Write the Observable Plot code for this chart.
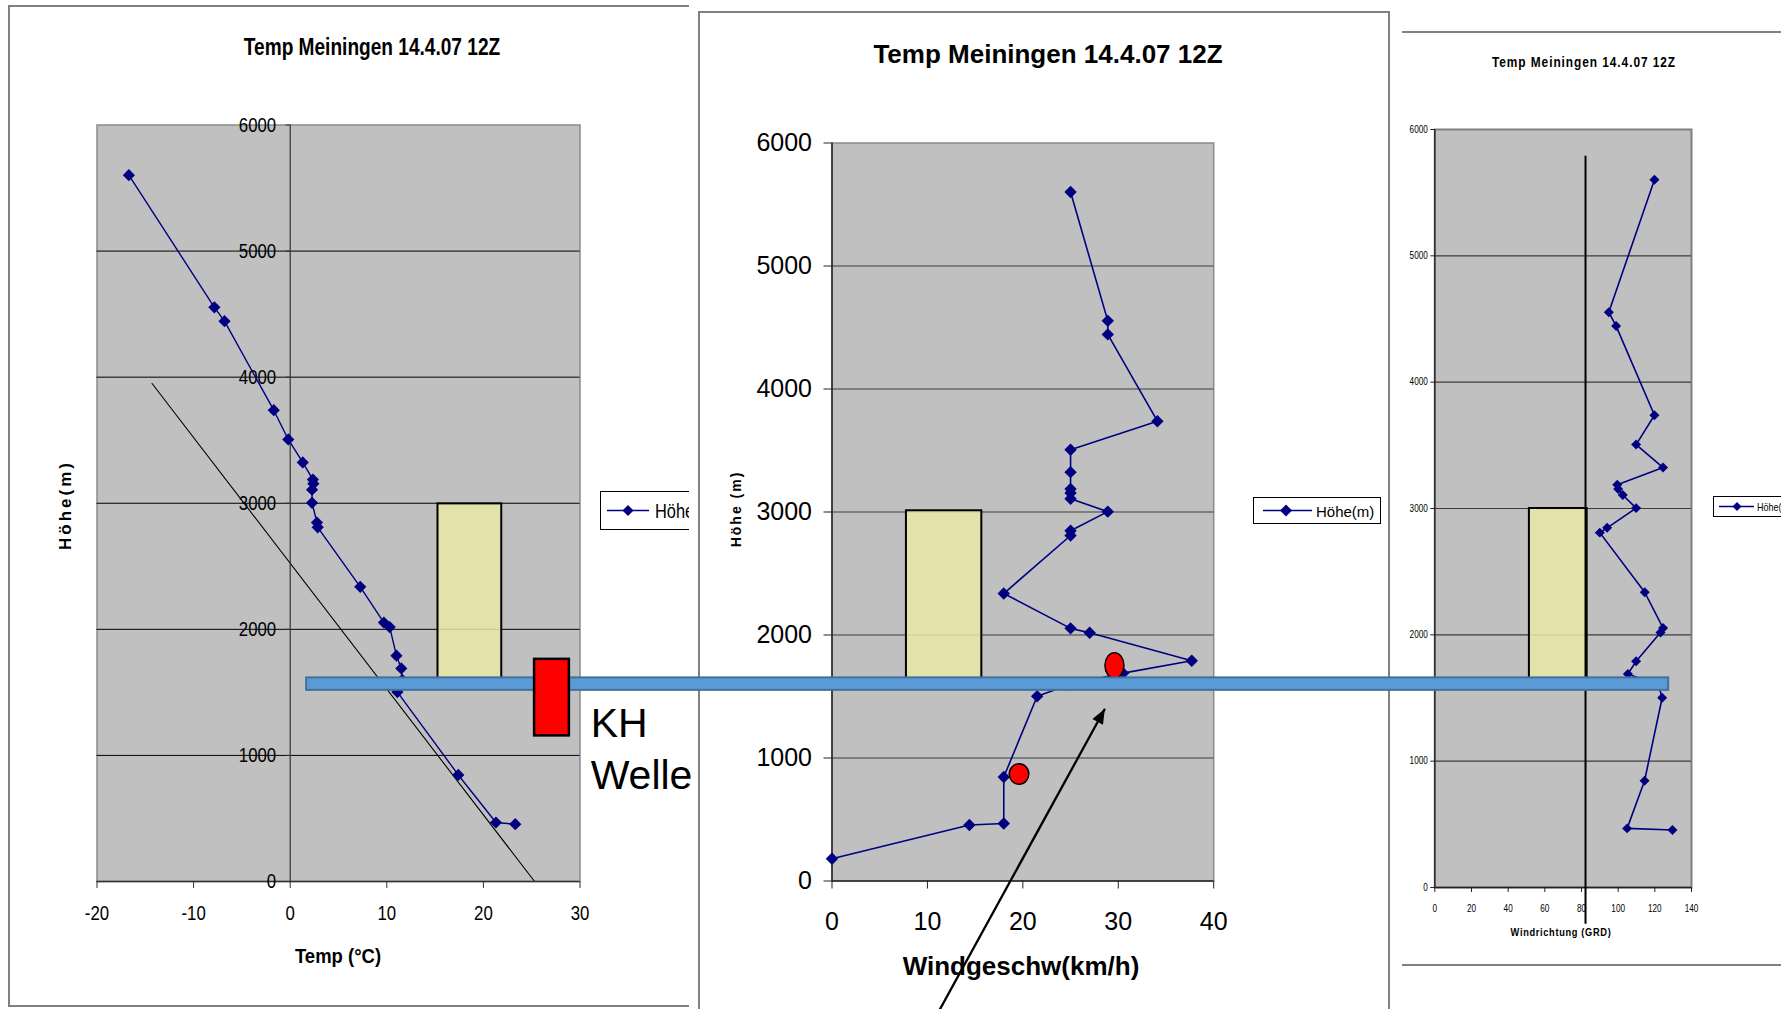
<!DOCTYPE html>
<html>
<head>
<meta charset="utf-8">
<script src="https://cdn.jsdelivr.net/npm/d3@7"></script>
<script src="https://cdn.jsdelivr.net/npm/@observablehq/plot@0.6"></script>
<style>
  html, body { margin: 0; padding: 0; background: #fff; }
  #page { position: relative; width: 1781px; height: 1009px; overflow: hidden; background: #fff;
          font-family: "Liberation Sans", Arial, sans-serif; color: #000; }
  .panel { position: absolute; left: 0; top: 0; width: 1781px; height: 1009px; }
  .panel > svg { position: absolute; top: 0; }
  .abs { position: absolute; white-space: nowrap; line-height: 1; }
  .c { transform: translate(-50%, -50%); }
  .rot { transform: translate(-50%, -50%) rotate(-90deg); }
  .frame { position: absolute; box-sizing: border-box; border: 2px solid #808080; }
  .hline { position: absolute; height: 0; border-top: 2px solid #808080; }
  .legend { position: absolute; box-sizing: border-box; border: 1px solid #000; background: #fff; }
  .legend svg { position: absolute; left: 0; top: 0; overflow: visible; }
  .legend span { position: absolute; white-space: nowrap; line-height: 1; transform-origin: 0 50%; }
</style>
</head>
<body>
<div id="page">
  <div class="panel" id="p1" style="clip-path: inset(0 1092px 0 0)">
    <div class="frame" style="left:8px; top:5px; width:760px; height:1002px"></div>
    <div class="abs" style="left:372px; top:47px; font-size:23px; font-weight:bold; transform: translate(-50%,-50%) scaleX(0.83)">Temp Meiningen 14.4.07 12Z</div>
    <div class="abs rot" style="left:65px; top:505px; font-size:17px; font-weight:bold; letter-spacing:3px">Höhe(m)</div>
    <div class="abs" style="left:338px; top:955px; font-size:21px; font-weight:bold; transform: translate(-50%,-50%) scaleX(0.88)">Temp (°C)</div>
  </div>
  <div class="panel" id="p2" style="clip-path: inset(0 391px 0 698px)">
    <div class="frame" style="left:698px; top:11px; width:692px; height:1100px"></div>
    <div class="abs c" style="left:1048px; top:54px; font-size:26px; font-weight:bold">Temp Meiningen 14.4.07 12Z</div>
    <div class="abs rot" style="left:736px; top:509px; font-size:14px; font-weight:bold; letter-spacing:2px">Höhe (m)</div>
    <div class="abs c" style="left:1021px; top:966px; font-size:26px; font-weight:bold">Windgeschw(km/h)</div>
  </div>
  <div class="panel" id="p3" style="clip-path: inset(0 0 0 1390px)">
    <div class="hline" style="left:1402px; top:31px; width:400px"></div>
    <div class="hline" style="left:1402px; top:964px; width:400px"></div>
    <div class="abs" style="left:1584px; top:62px; font-size:14px; font-weight:bold; letter-spacing:1.1px; transform: translate(-50%,-50%) scaleX(0.85)">Temp Meiningen 14.4.07 12Z</div>
    <div class="abs" style="left:1561px; top:932px; font-size:11px; font-weight:bold; letter-spacing:0.8px; transform: translate(-50%,-50%) scaleX(0.84)">Windrichtung (GRD)</div>
  </div>
</div>
<script>
const SANS = '"Liberation Sans", Arial, sans-serif';
const NAVY = "#000080";
const GREY_AREA = "#c0c0c0";
const LAYER_FILL = "rgb(232,232,166)";

// Radiosonde levels (m) for temperature and wind direction
const heights = [455, 468, 845, 1502, 1600, 1690, 1791, 2018, 2054, 2337, 2809, 2847, 3003, 3107, 3155, 3188, 3324, 3506, 3738, 4444, 4554, 5602];
// Temperature (°C)
const temperature = [23.3, 21.3, 17.4, 11.1, 11.6, 11.5, 11.0, 10.3, 9.7, 7.25, 2.85, 2.77, 2.26, 2.26, 2.4, 2.35, 1.3, -0.2, -1.7, -6.8, -7.85, -16.7];
// Wind direction (degrees)
const windDirection = [129.6, 104.9, 114.4, 124.0, 122.0, 105.3, 109.8, 123.1, 124.5, 114.5, 90.0, 94.0, 109.8, 102.5, 100.0, 99.5, 124.5, 109.8, 119.8, 98.9, 94.9, 119.8];
// Wind speed (km/h) has an extra calm level near the ground
const windHeights = [181, 455, 468, 845, 1502, 1600, 1690, 1791, 2018, 2054, 2337, 2809, 2847, 3003, 3107, 3155, 3188, 3324, 3506, 3738, 4444, 4554, 5602];
const windSpeed = [0, 14.4, 18.0, 18.0, 21.5, 25.0, 30.5, 37.7, 27.0, 25.0, 18.0, 25.0, 25.0, 28.9, 25.0, 25.0, 25.0, 25.0, 25.0, 34.1, 28.9, 28.9, 25.0];

// Axes
const heightDomain = [0, 6000];
const heightTicks = [0, 1000, 2000, 3000, 4000, 5000, 6000];
const gridHeights = [1000, 2000, 3000, 4000, 5000];
const tempDomain = [-20, 30];
const tempTicks = [-20, -10, 0, 10, 20, 30];
const speedDomain = [0, 40];
const speedTicks = [0, 10, 20, 30, 40];
const dirDomain = [0, 140];
const dirTicks = [0, 20, 40, 60, 80, 100, 120, 140];

// Dry adiabat through the lower troposphere
const adiabatTemp = [-14.3, 25.3];
const adiabatHeight = [3950, 0];

// Shaded layer (bottom / top in m) and its extent in each panel
const layerHeight = [1600, 3000];
const layerTemp = [15.3, 21.9];
const layerTempTop = 2995;
const layerSpeed = [7.8, 15.7];
const layerSpeedTop = 3010;
const layerDir = [51.6, 83.1];

// Reference direction line
const refDirection = 82.2;
const refDirHeight = [-290, 5788];

// Kelvin-Helmholtz wave markers
const waveBandTemp = [1.7, 142.7];
const waveBandHeight = [1516, 1615];
const waveBoxTemp = [25.3, 28.9];
const waveBoxHeight = [1155, 1762];
const waveLabel = "KH\nWelle";
const waveLabelTemp = 31.1;
const waveLabelHeight = 1440;
const shearSpeed = [29.6, 19.6];
const shearHeight = [1753, 870];
const arrowSpeed = [10.2, 28.6];
const arrowHeight = [-1200, 1400];

const fmt = d => `${d}`;

// ellipse symbol (aspect = ry / rx)
const ellipse = k => ({
  draw(ctx, size) {
    const rx = Math.sqrt(size / Math.PI), ry = rx * k, c = 0.5523;
    ctx.moveTo(rx, 0);
    ctx.bezierCurveTo(rx, ry * c, rx * c, ry, 0, ry);
    ctx.bezierCurveTo(-rx * c, ry, -rx, ry * c, -rx, 0);
    ctx.bezierCurveTo(-rx, -ry * c, -rx * c, -ry, 0, -ry);
    ctx.bezierCurveTo(rx * c, -ry, rx, -ry * c, rx, 0);
    ctx.closePath();
  }
});
// filled arrow head with its tip at the origin, pointing up
const arrowHead = {
  draw(ctx, size) {
    const r = Math.sqrt(size / Math.PI);
    ctx.moveTo(0, 0);
    ctx.lineTo(r, 2.5 * r);
    ctx.lineTo(-r, 2.5 * r);
    ctx.closePath();
  }
};

// narrow the tick labels horizontally (condensed chart font)
function condense(svg, k) {
  d3.select(svg).selectAll('g[aria-label$="tick label"] text').each(function () {
    const t = this.getAttribute("transform");
    if (t) {
      this.setAttribute("transform", `${t} scale(${k},1)`);
    } else {
      const x = +this.getAttribute("x") || 0, y = +this.getAttribute("y") || 0;
      this.removeAttribute("x");
      this.removeAttribute("y");
      this.setAttribute("transform", `translate(${x},${y}) scale(${k},1)`);
    }
  });
}

const idx = heights.map((_, i) => i);
const widx = windHeights.map((_, i) => i);

// ---------- Panel 1: temperature ----------
const p1Width = 689, p1Left = 96.5, p1Right = 109.5;
const p1Shift = (0 - tempDomain[0]) / (tempDomain[1] - tempDomain[0]) * (p1Width - p1Left - p1Right);
const p1 = Plot.plot({
  width: p1Width, height: 1009,
  marginLeft: p1Left, marginRight: p1Right, marginTop: 124.5, marginBottom: 128,
  x: {domain: tempDomain}, y: {domain: heightDomain},
  style: {background: "none", overflow: "visible", fontFamily: SANS, color: "#000"},
  marks: [
    Plot.frame({fill: GREY_AREA, stroke: "#8a8a8a", strokeWidth: 1.5}),
    Plot.ruleY(gridHeights, {stroke: "#000", strokeWidth: 1}),
    Plot.rect([0], {x1: layerTemp[0], x2: layerTemp[1], y1: layerHeight[0], y2: layerTempTop,
      fill: LAYER_FILL, fillOpacity: 0.85, stroke: "#000", strokeWidth: 2}),
    Plot.line([0, 1], {x: i => adiabatTemp[i], y: i => adiabatHeight[i], stroke: "#000", strokeWidth: 1.1}),
    Plot.ruleX([0], {stroke: "#333", strokeWidth: 1.2}),
    Plot.ruleY([0], {stroke: "#333", strokeWidth: 1.5}),
    Plot.axisX({ticks: tempTicks, tickFormat: fmt, tickSize: 7, tickPadding: 17, fontSize: 21, label: null, stroke: "#333"}),
    Plot.axisY({ticks: heightTicks, tickFormat: fmt, tickSize: 4, tickPadding: 10, fontSize: 21, label: null, dx: p1Shift, stroke: "#333"}),
    Plot.line(idx, {x: i => temperature[i], y: i => heights[i], stroke: NAVY, strokeWidth: 1.4}),
    Plot.dot(idx, {x: i => temperature[i], y: i => heights[i], symbol: "diamond2", r: 5.5, fill: NAVY, stroke: "none"})
  ]
});
condense(p1, 0.8);
p1.style.left = "0px";
document.getElementById("p1").appendChild(p1);

// ---------- Panel 2: wind speed ----------
const p2Width = 692, p2Left = 133.5, p2Right = 176.8, p2Top = 142.5, p2Bottom = 128.5, p2Height = 1009;
const p2kx = (p2Width - p2Left - p2Right) / (speedDomain[1] - speedDomain[0]);
const p2ky = (p2Height - p2Top - p2Bottom) / (heightDomain[1] - heightDomain[0]);
const arrowAngle = Math.atan2((arrowSpeed[1] - arrowSpeed[0]) * p2kx, (arrowHeight[1] - arrowHeight[0]) * p2ky) * 180 / Math.PI;
const p2 = Plot.plot({
  width: p2Width, height: p2Height,
  marginLeft: p2Left, marginRight: p2Right, marginTop: p2Top, marginBottom: p2Bottom,
  x: {domain: speedDomain}, y: {domain: heightDomain},
  style: {background: "none", overflow: "visible", fontFamily: SANS, color: "#000"},
  marks: [
    Plot.frame({fill: GREY_AREA, stroke: "#8a8a8a", strokeWidth: 1.5}),
    Plot.ruleY(gridHeights, {stroke: "#3c3c3c", strokeWidth: 1.2}),
    Plot.rect([0], {x1: layerSpeed[0], x2: layerSpeed[1], y1: layerHeight[0], y2: layerSpeedTop,
      fill: LAYER_FILL, fillOpacity: 0.85, stroke: "#000", strokeWidth: 2}),
    Plot.ruleX([0], {stroke: "#222", strokeWidth: 1.5}),
    Plot.ruleY([0], {stroke: "#222", strokeWidth: 1.5}),
    Plot.axisX({ticks: speedTicks, tickFormat: fmt, tickSize: 8, tickPadding: 23, fontSize: 25, label: null, stroke: "#222"}),
    Plot.axisY({ticks: heightTicks, tickFormat: fmt, tickSize: 8, tickPadding: 12, fontSize: 25, label: null, stroke: "#222"}),
    Plot.line(widx, {x: i => windSpeed[i], y: i => windHeights[i], stroke: NAVY, strokeWidth: 1.6}),
    Plot.dot(widx, {x: i => windSpeed[i], y: i => windHeights[i], symbol: "diamond2", r: 5.6, fill: NAVY, stroke: "none"}),
    Plot.dot([0], {x: shearSpeed[0], y: shearHeight[0], symbol: ellipse(1.34), r: 9.5, fill: "#ff0000", stroke: "#000", strokeWidth: 1.5}),
    Plot.dot([1], {x: shearSpeed[1], y: shearHeight[1], symbol: ellipse(1.05), r: 9.8, fill: "#ff0000", stroke: "#000", strokeWidth: 1.5}),
    Plot.link([0], {x1: arrowSpeed[0], y1: arrowHeight[0], x2: arrowSpeed[1], y2: arrowHeight[1], stroke: "#000", strokeWidth: 2.3}),
    Plot.dot([0], {x: arrowSpeed[1], y: arrowHeight[1], symbol: arrowHead, r: 6, rotate: arrowAngle, fill: "#000", stroke: "none"})
  ]
});
p2.style.left = "698px";
document.getElementById("p2").appendChild(p2);

// ---------- Panel 3: wind direction ----------
const p3 = Plot.plot({
  width: 391, height: 1009,
  marginLeft: 44.3, marginRight: 90, marginTop: 129, marginBottom: 122,
  x: {domain: dirDomain}, y: {domain: heightDomain},
  style: {background: "none", overflow: "visible", fontFamily: SANS, color: "#000"},
  marks: [
    Plot.frame({fill: GREY_AREA, stroke: "#808080", strokeWidth: 2}),
    Plot.ruleY(gridHeights, {stroke: "#3c3c3c", strokeWidth: 1.2}),
    Plot.rect([0], {x1: layerDir[0], x2: layerDir[1], y1: layerHeight[0], y2: layerHeight[1],
      fill: LAYER_FILL, fillOpacity: 0.85, stroke: "#000", strokeWidth: 2}),
    Plot.ruleX([0], {stroke: "#222", strokeWidth: 1.3}),
    Plot.ruleY([0], {stroke: "#222", strokeWidth: 1.5}),
    Plot.ruleX([refDirection], {y1: refDirHeight[0], y2: refDirHeight[1], stroke: "#000", strokeWidth: 2}),
    Plot.axisX({ticks: dirTicks, tickFormat: fmt, tickSize: 5, tickPadding: 12.5, fontSize: 10, label: null, stroke: "#222"}),
    Plot.axisY({ticks: heightTicks, tickFormat: fmt, tickSize: 4, tickPadding: 3, fontSize: 10, label: null, stroke: "#222"}),
    Plot.line(idx, {x: i => windDirection[i], y: i => heights[i], stroke: NAVY, strokeWidth: 1.6}),
    Plot.dot(idx, {x: i => windDirection[i], y: i => heights[i], symbol: "diamond2", r: 4.5, fill: NAVY, stroke: "none"})
  ]
});
condense(p3, 0.82);
p3.style.left = "1390px";
document.getElementById("p3").appendChild(p3);

// ---------- Legends ----------
function legend(panel, box, line, diamond, label, font) {
  const div = document.createElement("div");
  div.className = "legend";
  Object.assign(div.style, {left: box[0] + "px", top: box[1] + "px", width: box[2] + "px", height: box[3] + "px"});
  const h = box[3] - 2;
  const svg = d3.create("svg").attr("width", box[2]).attr("height", h);
  svg.append("line").attr("x1", line[0] - box[0]).attr("x2", line[1] - box[0])
    .attr("y1", h / 2).attr("y2", h / 2).attr("stroke", NAVY).attr("stroke-width", 1.6);
  const cx = diamond[0] - box[0], r = diamond[1];
  svg.append("path").attr("d", `M${cx},${h / 2 - r}L${cx + r},${h / 2}L${cx},${h / 2 + r}L${cx - r},${h / 2}Z`).attr("fill", NAVY);
  div.appendChild(svg.node());
  const span = document.createElement("span");
  span.textContent = label;
  Object.assign(span.style, {left: (font.x - box[0]) + "px", top: (h / 2) + "px",
    fontSize: font.size + "px", fontFamily: SANS, transform: `translateY(-50%) scaleX(${font.k})`});
  div.appendChild(span);
  document.getElementById(panel).appendChild(div);
}
legend("p1", [600, 491, 140, 39], [606, 648], [627, 5.5], "Höhe(m)", {x: 654, size: 20, k: 0.82});
legend("p2", [1253, 497, 128, 27], [1262, 1311], [1285, 6], "Höhe(m)", {x: 1315, size: 15, k: 1});
legend("p3", [1713, 496, 120, 21], [1718, 1753], [1736, 4.5], "Höhe(m)", {x: 1756, size: 11, k: 0.82});

// ---------- Overlay: KH wave annotation (temperature-panel coordinates) ----------
const overlay = Plot.plot({
  width: 1781, height: 1009,
  marginLeft: p1Left, marginRight: 1781 - (p1Width - p1Right), marginTop: 124.5, marginBottom: 128,
  x: {domain: tempDomain, axis: null}, y: {domain: heightDomain, axis: null},
  style: {background: "none", overflow: "visible", fontFamily: SANS, color: "#000",
    position: "absolute", left: "0px", top: "0px", pointerEvents: "none"},
  marks: [
    Plot.rect([0], {x1: waveBandTemp[0], x2: waveBandTemp[1], y1: waveBandHeight[0], y2: waveBandHeight[1],
      fill: "#5b9bd5", stroke: "#41719c", strokeWidth: 2}),
    Plot.rect([0], {x1: waveBoxTemp[0], x2: waveBoxTemp[1], y1: waveBoxHeight[0], y2: waveBoxHeight[1],
      fill: "#ff0000", stroke: "#000", strokeWidth: 2.5}),
    Plot.text([waveLabel], {x: waveLabelTemp, y: waveLabelHeight, text: d => d, textAnchor: "start",
      lineAnchor: "top", lineHeight: 1.27, fontSize: 41, fill: "#000"})
  ]
});
document.getElementById("page").appendChild(overlay);
</script>
</body>
</html>
